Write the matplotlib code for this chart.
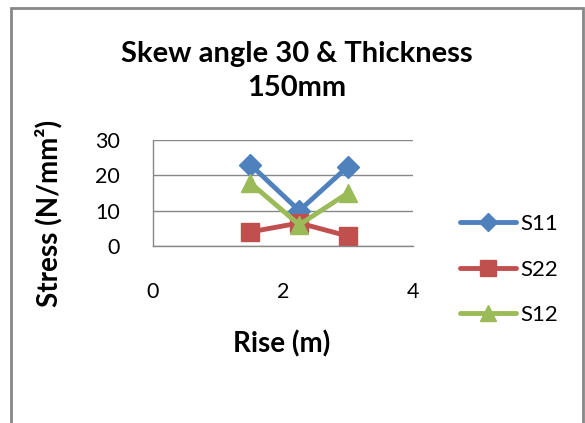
import matplotlib
matplotlib.use("Agg")
import matplotlib.pyplot as plt
from matplotlib.patches import Rectangle

# Stress results for skew angle 30, slab thickness 150 mm
rise = [1.5, 2.25, 3.0]
s11 = [23.0, 10.0, 22.5]
s22 = [4.0, 6.5, 2.8]
s12 = [17.8, 6.0, 15.0]
series_names = ["S11", "S22", "S12"]

x_ticks = [0, 2, 4]
y_ticks = [0, 10, 20, 30]

plt.rcParams["font.family"] = ["Lato", "DejaVu Sans"]

fig = plt.figure(figsize=(5.85, 4.23), dpi=100)
fig.patch.set_facecolor("white")

# chart frame
fig.patches.append(Rectangle((11 / 585, -0.05), (583 - 11) / 585, 1.05 - 8 / 423,
                             transform=fig.transFigure, fill=False,
                             edgecolor="#888888", linewidth=2.0, zorder=0))

ax = fig.add_axes([153 / 585, 1 - 246 / 423, (413 - 153) / 585, (246 - 140) / 423])

colors = ["#4F81BD", "#C0504D", "#9BBB59"]
markers = ["D", "s", "^"]
msizes = [11, 13, 13]
for vals, name, c, m, ms in zip([s11, s22, s12], series_names, colors, markers, msizes):
    ax.plot(rise, vals, color=c, marker=m, markersize=ms, linewidth=3.5,
            label=name, markeredgecolor=c, solid_capstyle="round",
            clip_on=False)

ax.set_xlim(0, 4)
ax.set_ylim(0, 30)
ax.set_xticks(x_ticks)
ax.set_yticks(y_ticks)
ax.yaxis.grid(True, color="#888888", linewidth=1.0)
ax.set_axisbelow(True)
for s in ["top", "right"]:
    ax.spines[s].set_visible(False)
for s in ["left", "bottom"]:
    ax.spines[s].set_color("#888888")
    ax.spines[s].set_linewidth(1.0)
ax.tick_params(axis="both", length=0, labelsize=15.5)
ax.tick_params(axis="y", pad=24)
ax.tick_params(axis="x", pad=26)

ax.set_xlabel("Rise (m)", fontsize=20, fontweight="bold")
ax.xaxis.set_label_coords(0.496, -0.80)
ax.set_ylabel("Stress (N/mm²)", fontsize=20, fontweight="bold")
ax.yaxis.set_label_coords(-0.35, 0.31)

fig.text(297 / 585, 1 - 71 / 423, "Skew angle 30 & Thickness\n150mm",
         ha="center", va="center", fontsize=21, fontweight="bold", linespacing=1.38)

leg = fig.legend(loc="center left", bbox_to_anchor=(460 / 585, 1 - 269.5 / 423),
                 frameon=False, fontsize=16, handlelength=2.5, handletextpad=0.2,
                 labelspacing=1.15, borderpad=0, borderaxespad=0, markerscale=0.85)

fig.savefig("out.png", dpi=100, facecolor="white")
